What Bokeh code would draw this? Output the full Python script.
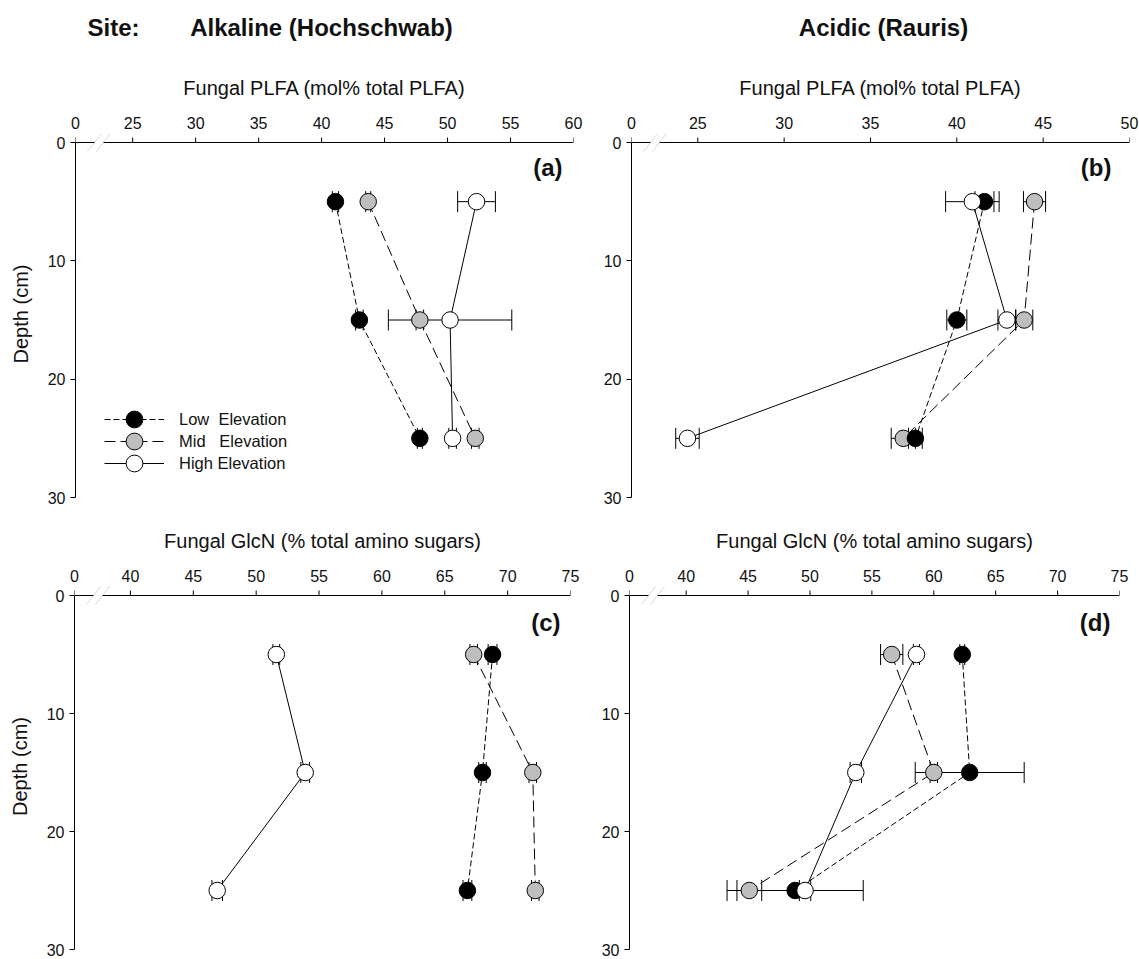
import numpy as np
from bokeh.plotting import figure
from bokeh.models import (Range1d, FixedTicker, CustomJSTickFormatter, Whisker, TeeHead,
                          ColumnDataSource, Legend, LegendItem, Label, PolyAnnotation, Span)
from bokeh.layouts import column, row
from bokeh.embed import file_html
from bokeh.resources import INLINE

FONT = "Liberation Sans"

# ---------------- data ----------------
depth = [5, 15, 25]
series_names = ["Low  Elevation", "Mid   Elevation", "High Elevation"]

# (a) Alkaline, fungal PLFA (mol% total PLFA)
a_low = [41.1, 43.0, 47.8]
a_low_err = [0.25, 0.3, 0.2]
a_mid = [43.7, 47.8, 52.2]
a_mid_err = [0.2, 0.3, 0.3]
a_high = [52.3, 50.2, 50.4]
a_high_err = [1.5, 4.9, 0.3]

# (b) Acidic, fungal PLFA (mol% total PLFA)
b_low = [41.6, 40.0, 37.6]
b_low_err = [0.55, 0.58, 0.4]
b_mid = [44.5, 43.9, 36.9]
b_mid_err = [0.64, 0.5, 0.7]
b_high = [40.9, 42.9, 24.4]
b_high_err = [1.55, 0.52, 0.68]

# (c) Alkaline, fungal GlcN (% total amino sugars)
c_low = [68.8, 68.0, 66.8]
c_low_err = [0.35, 0.3, 0.35]
c_mid = [67.3, 72.0, 72.2]
c_mid_err = [0.3, 0.3, 0.3]
c_high = [51.6, 53.9, 46.9]
c_high_err = [0.27, 0.35, 0.42]

# (d) Acidic, fungal GlcN (% total amino sugars)
d_low = [62.3, 62.9, 48.8]
d_low_err = [0.2, 4.4, 5.5]
d_mid = [56.6, 60.0, 45.1]
d_mid_err = [0.9, 0.3, 1.0]
d_high = [58.6, 53.7, 49.6]
d_high_err = [0.25, 0.46, 0.46]

plfa_label = "Fungal PLFA (mol% total PLFA)"
glcn_label = "Fungal GlcN (% total amino sugars)"
depth_label = "Depth (cm)"

# ---------------- styles ----------------
fills = ["black", "#bebebe", "white"]
dashes = ["6 3", "11 5", "solid"]
draw_order = [1, 0, 2]
MSIZE = 16.5
EXT = 12  # px of frame above depth 0 (room for the axis-break marks)


def build_panel(vals, errs, x_start, x_end, first_tick, xlabel, ylabel, tag,
                width, height, bl, br, bt, bb, tag_dx, tag_dy, legend=False):
    frame_w = width - bl - br
    frame_h = height - bt - bb
    ppu = frame_w / (x_end - x_start)
    ppc = (frame_h - EXT) / 30.0
    p = figure(width=width, height=height,
               x_range=Range1d(x_start, x_end), y_range=Range1d(30, -EXT / ppc),
               x_axis_location="above", toolbar_location=None, output_backend="svg",
               min_border_left=bl, min_border_right=br,
               min_border_top=bt, min_border_bottom=bb)
    p.outline_line_color = None
    p.grid.visible = False

    ticks = [x_start] + list(range(first_tick, int(round(x_end)) + 1, 5))
    xa = p.xaxis[0]
    ya = p.yaxis[0]
    xa.ticker = FixedTicker(ticks=ticks)
    xa.formatter = CustomJSTickFormatter(
        code="return tick < %d ? '0' : tick.toFixed(0);" % (first_tick - 1))
    ya.ticker = FixedTicker(ticks=[0, 10, 20, 30])
    ya.bounds = (0, 30)
    for ax in (xa, ya):
        ax.major_tick_in = 0
        ax.major_tick_out = 5
        ax.minor_tick_line_color = None
        ax.axis_line_color = "black"
        ax.major_tick_line_color = "black"
        ax.major_label_text_font = FONT
        ax.major_label_text_font_size = "16px"
        ax.major_label_text_color = "#111111"
        ax.axis_label_text_font = FONT
        ax.axis_label_text_font_size = "20px"
        ax.axis_label_text_font_style = "normal"
        ax.axis_label_text_color = "#111111"
    # the top axis only carries the labels; its rule is drawn at depth 0 below
    xa.axis_line_color = None
    xa.major_tick_line_color = None
    xa.major_tick_out = 0
    xa.axis_label = xlabel
    xa.major_label_standoff = 2
    xa.axis_label_standoff = 15
    ya.major_label_standoff = 5
    if ylabel:
        ya.axis_label = ylabel
        ya.axis_label_standoff = 13

    # rule of the top axis at depth 0, with outward ticks
    p.add_layout(Span(location=0, dimension="width", line_color="black", line_width=1))
    p.segment(x0=ticks, y0=[0] * len(ticks), x1=ticks, y1=[-5 / ppc] * len(ticks),
              line_color="black", line_width=1)

    # error bars
    for i in range(3):
        v = np.array(vals[i], dtype=float)
        e = np.array(errs[i], dtype=float)
        src = ColumnDataSource(dict(depth=depth, lo=v - e, hi=v + e))
        w = Whisker(source=src, base="depth", lower="lo", upper="hi", dimension="width",
                    line_color="black", line_width=1, level="underlay",
                    upper_head=TeeHead(size=21, line_color="black", line_width=1),
                    lower_head=TeeHead(size=21, line_color="black", line_width=1))
        p.add_layout(w)

    lines = []
    for i in range(3):
        lines.append(p.line(vals[i], depth, line_color="black", line_width=1,
                            line_dash=dashes[i]))
    marks = [None, None, None]
    for i in draw_order:
        marks[i] = p.scatter(vals[i], depth, marker="circle", size=MSIZE,
                             fill_color=fills[i], line_color="black", line_width=1)

    if legend:
        # one single-entry legend per series so that rows sit close together
        for i, vy in enumerate((57, 35, 13)):
            lg = Legend(items=[LegendItem(label=series_names[i],
                                          renderers=[lines[i], marks[i]])],
                        location=(29, vy), glyph_width=60, glyph_height=42,
                        label_height=42, padding=0, margin=0, spacing=0,
                        label_standoff=15, border_line_color=None,
                        background_fill_alpha=0, label_text_font=FONT,
                        label_text_font_size="16.5px", label_text_color="#111111")
            p.add_layout(lg)

    # panel tag
    p.add_layout(Label(x=x_end, y=0, x_offset=-tag_dx, y_offset=-tag_dy, text=tag,
                       text_align="right", text_baseline="middle", text_font=FONT,
                       text_font_size="24px", text_font_style="bold",
                       text_color="#111111"))

    # axis break marks
    o1, o2 = 19.0, 28.0
    hx, hy = 7.0, 9.0
    gx = hx * 2.5 / hy
    gap = PolyAnnotation(
        xs=[x_start + (o1 - gx) / ppu, x_start + (o2 - gx) / ppu,
            x_start + (o2 + gx) / ppu, x_start + (o1 + gx) / ppu],
        ys=[2.5 / ppc, 2.5 / ppc, -2.5 / ppc, -2.5 / ppc],
        fill_color="white", fill_alpha=1, line_color=None)
    p.add_layout(gap)
    for o in (o1, o2):
        p.add_layout(PolyAnnotation(
            xs=[x_start + (o - hx) / ppu, x_start + (o + hx) / ppu],
            ys=[hy / ppc, -hy / ppc],
            fill_alpha=0, line_color="#808080", line_width=1))
    return p


HDR_H = 48
TOP_H, BOT_H = 462, 449
LEFT_W, RIGHT_W = 596, 543

pa = build_panel([a_low, a_mid, a_high], [a_low_err, a_mid_err, a_high_err],
                 20.46, 60, 25, plfa_label, depth_label, "(a)",
                 LEFT_W, TOP_H, 75, 23, 82, 13, 11, 25, legend=True)
pb = build_panel([b_low, b_mid, b_high], [b_low_err, b_mid_err, b_high_err],
                 21.16, 50, 25, plfa_label, None, "(b)",
                 RIGHT_W, TOP_H, 35, 10, 82, 13, 18, 25)
pc = build_panel([c_low, c_mid, c_high], [c_low_err, c_mid_err, c_high_err],
                 35.55, 75, 40, glcn_label, depth_label, "(c)",
                 LEFT_W, BOT_H, 74, 26, 73, 10, 10, 27)
pd = build_panel([d_low, d_mid, d_high], [d_low_err, d_mid_err, d_high_err],
                 35.42, 75, 40, glcn_label, None, "(d)",
                 RIGHT_W, BOT_H, 33, 20, 73, 10, 9, 27)

# header with site titles
hdr = figure(width=LEFT_W + RIGHT_W, height=HDR_H, x_range=Range1d(0, LEFT_W + RIGHT_W),
             y_range=Range1d(0, HDR_H), x_axis_type=None, y_axis_type=None,
             toolbar_location=None, output_backend="svg",
             min_border_left=0, min_border_right=0, min_border_top=0, min_border_bottom=0)
hdr.outline_line_color = None
hdr.grid.visible = False
for txt, x, align in (("Site:", 87, "left"),
                      ("Alkaline (Hochschwab)", 321, "center"),
                      ("Acidic (Rauris)", 883, "center")):
    hdr.add_layout(Label(x=x, y=HDR_H - 27, text=txt, text_align=align,
                         text_baseline="middle", text_font=FONT, text_font_size="24px",
                         text_font_style="bold", text_color="#111111"))

layout = column(hdr, row(pa, pb), row(pc, pd))

open("out.html", "w").write(file_html(layout, INLINE))
